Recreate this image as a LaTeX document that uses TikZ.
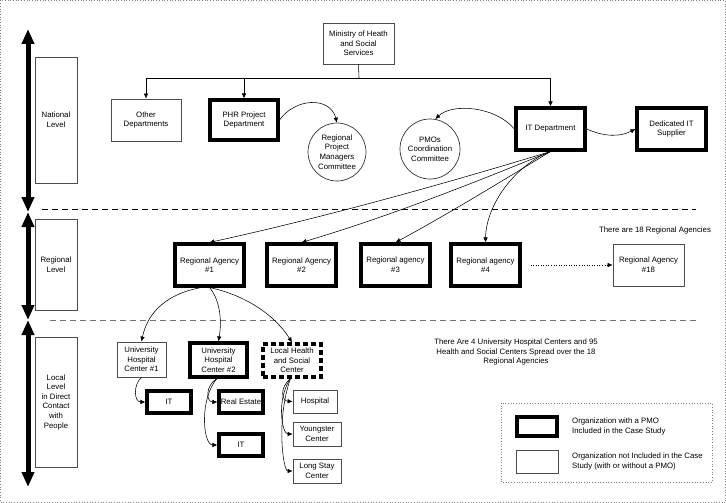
\documentclass[tikz,border=0pt]{standalone}
\usepackage{fontspec}
\setmainfont{Liberation Sans}
\usetikzlibrary{arrows.meta}
\begin{document}
\begin{tikzpicture}[x=1pt,y=-1pt,
  every node/.style={font=\fontsize{7.8}{9.6}\selectfont, align=center, inner sep=1pt},
  thinbox/.style={draw=black!70, line width=0.7pt, fill=white},
  thickbox/.style={draw=black, line width=3.1pt, fill=white},
  dashbox/.style={draw=black, line width=3.1pt, dash pattern=on 5pt off 3pt, fill=white},
  circ/.style={draw=black!80, line width=0.7pt, circle, minimum size=60pt},
  conn/.style={line width=0.55pt, -{Latex[length=5pt,width=4.5pt]}},
  lvl/.style={line width=5pt, {Triangle[length=15pt,width=12pt]}-{Triangle[length=15pt,width=12pt]}},
  sep/.style={line width=0.8pt, dash pattern=on 6pt off 4pt}
]
\useasboundingbox (0,0) rectangle (726,503);
\draw[gray, line width=0.7pt, dotted] (0.5,0.5) rectangle (725.5,502.5);

% level arrows
\coordinate (a0) at (28,29);
\coordinate (a1) at (28,212);
\coordinate (a2) at (28,320);
\coordinate (a3) at (28,487);
\draw[lvl] (a0) -- (a1);
\draw[lvl] (a1) -- (a2);
\draw[lvl] (a2) -- (a3);

% level boxes
\node[thinbox, minimum width=42pt, minimum height=126pt] (nat) at (56,120) {National\\Level};
\node[thinbox, minimum width=42pt, minimum height=91pt] (reg) at (56,264.5) {Regional\\Level};
\node[thinbox, minimum width=42pt, minimum height=130pt] (loc) at (56,402) {Local\\Level\\in Direct\\Contact\\with\\People};

% separators
\coordinate (s1a) at (42,209); \coordinate (s1b) at (696,209);
\coordinate (s2a) at (50,320); \coordinate (s2b) at (696,320);
\draw[sep, black] (s1a) -- (s1b);
\draw[sep, black!55] (s2a) -- (s2b);

% national level
\node[thinbox, minimum width=71pt, minimum height=41pt] (min) at (358.5,43.5) {Ministry of Heath\\and Social\\Services};
\node[thinbox, minimum width=70pt, minimum height=42pt] (other) at (146,120) {Other\\Departments};
\node[thickbox, minimum width=68pt, minimum height=40pt] (phr) at (244,120) {PHR Project\\Department};
\node[circ, minimum size=58pt] (rpmc) at (337,152) {Regional\\Project\\Managers\\Committee};
\node[circ] (pmoc) at (430,149) {PMOs\\Coordination\\Committee};
\node[thickbox, minimum width=69pt, minimum height=42pt] (itd) at (550.5,129) {IT Department};
\node[thickbox, minimum width=69pt, minimum height=42pt] (dits) at (671.5,129) {Dedicated IT\\Supplier};

\coordinate (hb) at (359,78);
\draw[line width=0.55pt] (min.south) -- (hb);
\draw[conn] (hb) -| (other.north);
\draw[conn] (hb) -| (phr.north);
\draw[conn] (hb) -| (itd.north);

\draw[conn] (phr.east) .. controls (295,98) and (330,96) .. (rpmc.north);
\draw[conn] (itd.west) .. controls (495,106) and (452,103) .. (pmoc.80);
\draw[conn] (itd.east) .. controls (605,137) and (620,137) .. (dits.west);

% regional level
\node (n18) at (655,230) {There are 18 Regional Agencies};
\node[thickbox, minimum width=69pt, minimum height=42pt] (ra1) at (209.5,265) {Regional Agency\\\#1};
\node[thickbox, minimum width=69pt, minimum height=42pt] (ra2) at (301.5,265) {Regional Agency\\\#2};
\node[thickbox, minimum width=69pt, minimum height=42pt] (ra3) at (395.5,265) {Regional agency\\\#3};
\node[thickbox, minimum width=69pt, minimum height=42pt] (ra4) at (485.5,265) {Regional agency\\\#4};
\node[thinbox, minimum width=71pt, minimum height=42pt] (ra18) at (648.5,265) {Regional Agency\\\#18};

\draw[conn] (itd.south) .. controls (437,186) and (325,217) .. (ra1.north);
\draw[conn] (itd.south) .. controls (466,186) and (387,217) .. (ra2.north);
\draw[conn] (itd.south) .. controls (497,184) and (448,214) .. (ra3.north);
\draw[conn] (itd.south) .. controls (515,165) and (486,205) .. (ra4.north);
\draw[line width=0.55pt, dotted, -{Latex[length=5pt,width=4.5pt]}, shorten <=9pt] (ra4.east) -- (ra18.west);

% local level
\node (n4) at (516,352) {There Are 4 University Hospital Centers and 95\\Health and Social Centers Spread over the 18\\Regional Agencies};
\node[thinbox, minimum width=49pt, minimum height=35pt] (uhc1) at (141.5,359.5) {University\\Hospital\\Center \#1};
\node[thickbox, minimum width=57pt, minimum height=34pt] (uhc2) at (218.5,360) {University\\Hospital\\Center \#2};
\node[dashbox, minimum width=58pt, minimum height=33pt] (lhsc) at (292,360.5) {Local Health\\and Social\\Center};
\node[thickbox, minimum width=44pt, minimum height=22pt] (it1) at (169,402) {IT};
\node[thickbox, minimum width=44pt, minimum height=22pt] (re) at (241,402) {Real Estate};
\node[thickbox, minimum width=44pt, minimum height=22pt] (it2) at (241,445) {IT};
\node[thinbox, minimum width=44pt, minimum height=23pt] (hosp) at (315,401.5) {Hospital};
\node[thinbox, minimum width=48pt, minimum height=24pt] (young) at (317,434) {Youngster\\Center};
\node[thinbox, minimum width=48pt, minimum height=24pt] (long) at (317,471) {Long Stay\\Center};

\draw[conn] (ra1.250) .. controls (170,293) and (148,310) .. (uhc1.north);
\draw[conn] (ra1.south) .. controls (220,300) and (222,320) .. (uhc2.north);
\draw[conn] (ra1.south) .. controls (245,295) and (275,315) .. (lhsc.north);

\draw[conn] (uhc1.south) .. controls (133,385) and (134,402) .. (it1.west);
\draw[conn] (uhc2.265) .. controls (205,386) and (206,402) .. (re.west);
\draw[conn] (uhc2.265) .. controls (199,400) and (203,445) .. (it2.west);
\draw[conn] (lhsc.265) .. controls (279,388) and (282,401) .. (hosp.west);
\draw[conn] (lhsc.265) .. controls (276,400) and (282,434) .. (young.west);
\draw[conn] (lhsc.265) .. controls (276,420) and (283,471) .. (long.west);

% legend
\coordinate (lg1) at (501,403); \coordinate (lg2) at (712,482);
\draw[gray, line width=0.7pt, dotted] (lg1) rectangle (lg2);
\node[thickbox, minimum width=40pt, minimum height=19pt] (lgt) at (537,426.5) {};
\node[thinbox, minimum width=42pt, minimum height=23pt] (lgn) at (537,461.5) {};
\node[anchor=west, align=left] (lgtt) at (571,426.5) {Organization with a PMO\\Included in the Case Study};
\node[anchor=west, align=left] (lgnt) at (571,461.5) {Organization not Included in the Case\\Study (with or without a PMO)};
\end{tikzpicture}
\end{document}
